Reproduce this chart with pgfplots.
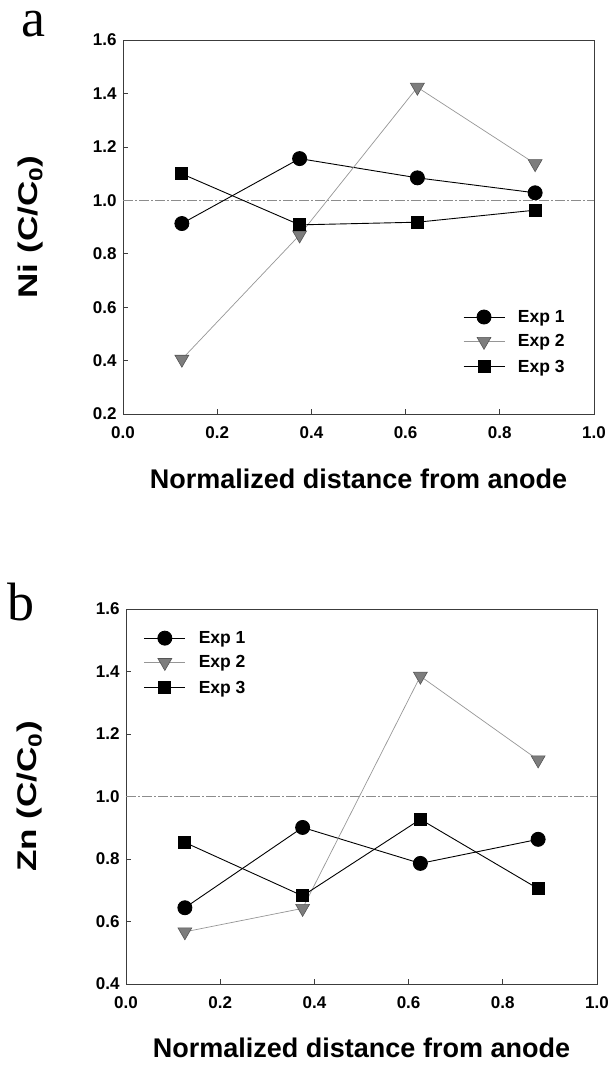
\documentclass[border=0pt]{standalone}
\usepackage{fontspec}
\setmainfont{Liberation Sans}
\newfontfamily\seriffont{Liberation Serif}
\usepackage{graphicx}
\usepackage{pgfplots}
\pgfplotsset{compat=1.18}

\definecolor{axisgray}{RGB}{60,60,60}
\definecolor{refgray}{RGB}{140,140,140}
\definecolor{linetwo}{RGB}{150,150,150}
\definecolor{trifill}{RGB}{125,125,125}
\definecolor{triedge}{RGB}{85,85,85}

\pgfplotsset{
  panel/.style={
    scale only axis, anchor=south west,
    width=471bp,
    xmin=0, xmax=1, xtick={0,0.2,...,1.0},
    tick align=inside, xtick pos=bottom, ytick pos=left,
    major tick length=5bp,
    axis line style={axisgray, line width=0.7bp},
    every tick/.style={axisgray, line width=0.7bp},
    tick label style={font=\bfseries\fontsize{17bp}{19bp}\selectfont},
    /pgf/number format/assume math mode=true,
    xticklabel style={/pgf/number format/.cd, fixed, fixed zerofill, precision=1},
    yticklabel style={/pgf/number format/.cd, fixed, fixed zerofill, precision=1},
    xticklabel shift=9bp, yticklabel shift=3bp,
    label style={font=\bfseries\fontsize{27bp}{32bp}\selectfont},
    legend style={draw=none, fill=none, inner sep=0pt, outer sep=0pt,
      font=\bfseries\fontsize{17.5bp}{20bp}\selectfont,
      row sep=10.5bp,
      nodes={inner sep=0pt, outer sep=0pt},
      /tikz/every odd column/.append style={column sep=13bp}},
    legend cell align=left,
    legend image code/.code={%
      \draw[mark repeat=2, mark phase=2, #1]
        plot coordinates {(0bp,0bp) (20.5bp,0bp) (41bp,0bp)};},
  },
  expone/.style={black, line width=0.9bp, mark=*, mark size=7bp,
    mark options={solid, fill=black}},
  exptwo/.style={linetwo, line width=0.7bp, mark=triangle*, mark size=8bp,
    mark options={solid, rotate=180, fill=trifill, draw=triedge, line width=0.6bp}},
  expthree/.style={black, line width=0.9bp, mark=square*, mark size=6bp,
    mark options={solid, fill=black}},
  refline/.style={refgray, line width=0.8bp,
    dash pattern=on 10bp off 2bp on 2bp off 2bp},
}

\begin{document}
\begin{tikzpicture}
\path[use as bounding box] (0,0) rectangle (611bp,-1065bp);

% panel a: Ni
\begin{axis}[panel,
  at={(123bp,-414bp)}, height=374bp,
  ymin=0.2, ymax=1.6, ytick={0.2,0.4,...,1.6},
  xlabel={Normalized distance from anode},
  ylabel={\scalebox{1.3}[1]{Ni (C/C\textsubscript{0})}},
  xlabel style={at={(axis description cs:0.5,-0.198)}, anchor=base},
  ylabel style={at={(axis description cs:-0.196,0.5)}, anchor=center},
  legend style={at={(axis description cs:0.722,0.278)}, anchor=north west},
]
\addplot[refline, forget plot] coordinates {(0,1.0) (1,1.0)};
\addplot[expone] coordinates {(0.125,0.913) (0.375,1.156) (0.625,1.084) (0.875,1.028)};
\addplot[exptwo] coordinates {(0.125,0.405) (0.375,0.870) (0.625,1.423) (0.875,1.137)};
\addplot[expthree] coordinates {(0.125,1.099) (0.375,0.908) (0.625,0.918) (0.875,0.963)};
\legend{Exp 1, Exp 2, Exp 3}
\end{axis}

% panel b: Zn
\begin{axis}[panel,
  at={(126bp,-984bp)}, height=375bp,
  ymin=0.4, ymax=1.6, ytick={0.4,0.6,...,1.6},
  xlabel={Normalized distance from anode},
  ylabel={\scalebox{1.3}[1]{Zn (C/C\textsubscript{0})}},
  xlabel style={at={(axis description cs:0.5,-0.195)}, anchor=base},
  ylabel style={at={(axis description cs:-0.204,0.5)}, anchor=center},
  legend style={at={(axis description cs:0.038,0.941)}, anchor=north west},
]
\addplot[refline, forget plot] coordinates {(0,1.0) (1,1.0)};
\addplot[expone] coordinates {(0.125,0.644) (0.375,0.901) (0.625,0.786) (0.875,0.863)};
\addplot[exptwo] coordinates {(0.125,0.567) (0.375,0.642) (0.625,1.385) (0.875,1.117)};
\addplot[expthree] coordinates {(0.125,0.853) (0.375,0.682) (0.625,0.927) (0.875,0.705)};
\legend{Exp 1, Exp 2, Exp 3}
\end{axis}

\node[font=\seriffont\fontsize{54bp}{58bp}\selectfont, anchor=base,
  inner sep=0pt, text height=26bp] at (33bp,-36bp) {a};
\node[font=\seriffont\fontsize{54bp}{58bp}\selectfont, anchor=base,
  inner sep=0pt] at (21bp,-620bp) {b};
\end{tikzpicture}
\end{document}
